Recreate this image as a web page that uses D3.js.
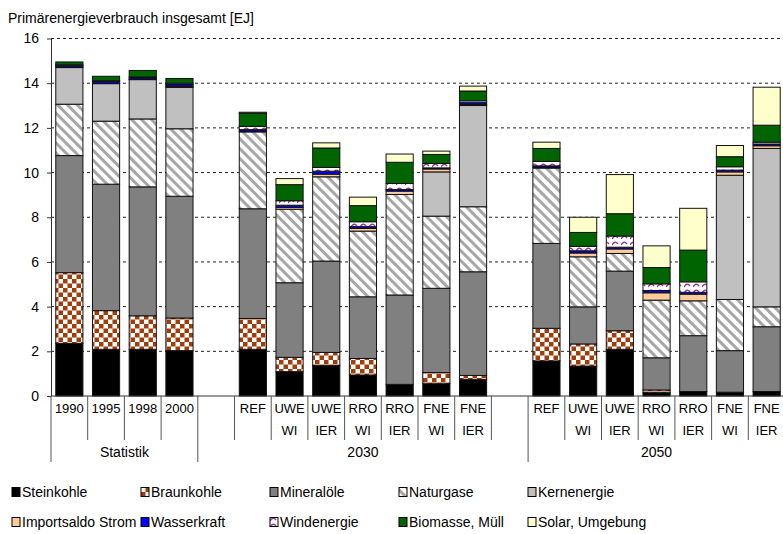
<!DOCTYPE html>
<html>
<head>
<meta charset="utf-8">
<script src="https://cdn.jsdelivr.net/npm/d3@7"></script>
<style>
  body { margin: 0; background: #fff; }
  svg { font-family: "Liberation Sans", Arial, Helvetica, sans-serif; }
</style>
</head>
<body>
<svg id="chart" width="783" height="534"></svg>
<script>
// categories (empty strings are the gaps between the blocks)
const categories = ["1990", "1995", "1998", "2000", "", "REF", "UWE", "UWE", "RRO", "RRO", "FNE", "FNE", "",
  "REF", "UWE", "UWE", "RRO", "RRO", "FNE", "FNE"];
const subLabels = ["", "", "", "", "", "", "WI", "IER", "WI", "IER", "WI", "IER", "",
  "", "WI", "IER", "WI", "IER", "WI", "IER"];
const groupLabels = ["Statistik", "2030", "2050"];
const groupFirst = [0, 4, 13];
const groupLast = [3, 12, 19];
const yTicks = [0, 2, 4, 6, 8, 10, 12, 14, 16];

// values in EJ
const steinkohle = [2.36, 2.09, 2.09, 2.03, 0, 2.09, 1.09, 1.36, 0.94, 0.52, 0.55, 0.75, 0, 1.57, 1.34, 2.09, 0.15, 0.2, 0.17, 0.2];
const braunkohle = [3.16, 1.73, 1.5, 1.46, 0, 1.38, 0.64, 0.59, 0.74, 0, 0.5, 0.17, 0, 1.46, 0.99, 0.83, 0.12, 0, 0, 0];
const mineraloele = [5.24, 5.66, 5.77, 5.45, 0, 4.91, 3.34, 4.09, 2.76, 4.0, 3.77, 4.64, 0, 3.8, 1.66, 2.67, 1.44, 2.5, 1.86, 2.9];
const naturgase = [2.3, 2.82, 3.04, 3.02, 0, 3.44, 3.29, 3.77, 2.94, 4.5, 3.23, 2.91, 0, 3.37, 2.24, 0.79, 2.58, 1.56, 2.29, 0.89];
const kernenergie = [1.64, 1.68, 1.76, 1.85, 0, 0, 0, 0, 0, 0, 1.98, 4.53, 0, 0, 0, 0, 0, 0, 5.56, 7.09];
const importsaldo = [0.03, 0.02, 0.01, 0.05, 0, 0.03, 0.08, 0.12, 0.12, 0.15, 0.13, 0.05, 0, 0.03, 0.17, 0.2, 0.33, 0.3, 0.15, 0.12];
const wasserkraft = [0.07, 0.08, 0.07, 0.08, 0, 0.07, 0.1, 0.13, 0.08, 0.07, 0.05, 0.08, 0, 0.07, 0.1, 0.08, 0.1, 0.08, 0.08, 0.08];
const windenergie = [0.02, 0.03, 0.04, 0.06, 0, 0.15, 0.2, 0.17, 0.22, 0.27, 0.2, 0.08, 0, 0.2, 0.2, 0.5, 0.3, 0.47, 0.15, 0.08];
const biomasse = [0.13, 0.2, 0.29, 0.21, 0, 0.58, 0.72, 0.87, 0.72, 0.95, 0.4, 0.44, 0, 0.58, 0.62, 1.0, 0.73, 1.42, 0.45, 0.76];
const solar = [0, 0, 0, 0, 0, 0.05, 0.27, 0.23, 0.38, 0.37, 0.15, 0.22, 0, 0.28, 0.68, 1.75, 0.97, 1.87, 0.5, 1.7];

const seriesNames = ["Steinkohle", "Braunkohle", "Mineralöle", "Naturgase", "Kernenergie",
  "Importsaldo Strom", "Wasserkraft", "Windenergie", "Biomasse, Müll", "Solar, Umgebung"];
const seriesValues = [steinkohle, braunkohle, mineraloele, naturgase, kernenergie,
  importsaldo, wasserkraft, windenergie, biomasse, solar];
const seriesFills = ["#000000", "url(#braun)", "#808080", "url(#gas)", "#c0c0c0",
  "#ffcc99", "#0000ff", "url(#wind)", "#006400", "#ffffcc"];

const svg = d3.select("#chart");
const plotLeft = 51, plotRight = 785, plotTop = 38.5, plotBottom = 396;

// patterns
const defs = svg.append("defs");
const braun = defs.append("pattern")
  .attr("id", "braun")
  .attr("width", 9)
  .attr("height", 9)
  .attr("patternUnits", "userSpaceOnUse");
braun.append("rect").attr("width", 9).attr("height", 9).attr("fill", "#fff");
braun.append("rect").attr("width", 4.5).attr("height", 4.5).attr("fill", "#a33c08");
braun.append("rect").attr("x", 4.5).attr("y", 4.5).attr("width", 4.5).attr("height", 4.5).attr("fill", "#a33c08");

const gas = defs.append("pattern")
  .attr("id", "gas")
  .attr("width", 7)
  .attr("height", 7)
  .attr("patternUnits", "userSpaceOnUse")
  .attr("patternTransform", "rotate(-45)");
gas.append("rect").attr("width", 7).attr("height", 7).attr("fill", "#fff");
gas.append("rect").attr("width", 3).attr("height", 7).attr("fill", "#a6a6a6");

const wind = defs.append("pattern")
  .attr("id", "wind")
  .attr("width", 9)
  .attr("height", 6)
  .attr("patternUnits", "userSpaceOnUse");
wind.append("rect").attr("width", 9).attr("height", 6).attr("fill", "#fff");
wind.append("path")
  .attr("d", "M0,5 Q3,0 6,4")
  .attr("fill", "none")
  .attr("stroke", "#993399")
  .attr("stroke-width", 1.3);

// scales
const slot = d3.scaleBand().domain(d3.range(categories.length)).range([plotLeft, plotRight]);
const x = d3.scaleBand()
  .domain(d3.range(categories.length))
  .range([plotLeft, plotRight])
  .paddingInner(0.26)
  .paddingOuter(0.13);
const y = d3.scaleLinear().domain([0, 16]).range([plotBottom, plotTop]);

// gridlines
svg.append("g")
  .selectAll("line")
  .data(yTicks.filter(function(d) { return d > 0; }))
  .join("line")
  .attr("x1", plotLeft)
  .attr("x2", 783)
  .attr("y1", function(d) { return y(d); })
  .attr("y2", function(d) { return y(d); })
  .attr("stroke", "#222")
  .attr("stroke-dasharray", "3,3");

// stacked bars
const rows = categories.map(function(c, i) {
  const row = { index: i };
  seriesNames.forEach(function(name, k) {
    row[name] = seriesValues[k][i];
  });
  return row;
});
const stacked = d3.stack().keys(seriesNames)(rows);

svg.append("g")
  .selectAll("g")
  .data(stacked)
  .join("g")
  .attr("fill", function(d, k) { return seriesFills[k]; })
  .selectAll("rect")
  .data(function(d) { return d.filter(function(p) { return p[1] - p[0] > 0; }); })
  .join("rect")
  .attr("x", function(p) { return x(p.data.index); })
  .attr("width", x.bandwidth())
  .attr("y", function(p) { return y(p[1]); })
  .attr("height", function(p) { return y(p[0]) - y(p[1]); })
  .attr("stroke", "#111")
  .attr("stroke-width", 1);

// y axis
const yAxis = svg.append("g")
  .attr("transform", `translate(${plotLeft},0)`)
  .call(d3.axisLeft(y).tickValues(yTicks).tickSize(4).tickPadding(8).tickSizeOuter(0));
yAxis.select(".domain").attr("stroke", "#333");
yAxis.selectAll(".tick line").attr("stroke", "#333");
yAxis.selectAll("text").attr("font-size", 14).attr("fill", "#000").attr("font-family", null);

// x axis base line
svg.append("line")
  .attr("x1", plotLeft)
  .attr("x2", 783)
  .attr("y1", plotBottom)
  .attr("y2", plotBottom)
  .attr("stroke", "#333");

// category separators
const bounds = d3.range(categories.length + 1);
svg.append("g")
  .selectAll("line")
  .data(bounds)
  .join("line")
  .attr("x1", function(k) { return plotLeft + k * slot.step(); })
  .attr("x2", function(k) { return plotLeft + k * slot.step(); })
  .attr("y1", plotBottom)
  .attr("y2", function(k) {
    return groupFirst.indexOf(k) >= 0 || k === categories.length ? 462 : 440;
  })
  .attr("stroke", "#555");

// category labels
svg.append("g")
  .selectAll("text")
  .data(categories)
  .join("text")
  .attr("x", function(d, i) { return slot(i) + slot.bandwidth() / 2; })
  .attr("y", 413)
  .attr("text-anchor", "middle")
  .attr("font-size", 13)
  .text(function(d) { return d; });

svg.append("g")
  .selectAll("text")
  .data(subLabels)
  .join("text")
  .attr("x", function(d, i) { return slot(i) + slot.bandwidth() / 2; })
  .attr("y", 435)
  .attr("text-anchor", "middle")
  .attr("font-size", 13)
  .text(function(d) { return d; });

svg.append("g")
  .selectAll("text")
  .data(groupLabels)
  .join("text")
  .attr("x", function(d, g) { return (slot(groupFirst[g]) + slot(groupLast[g]) + slot.bandwidth()) / 2; })
  .attr("y", 457)
  .attr("text-anchor", "middle")
  .attr("font-size", 14)
  .text(function(d) { return d; });

// title
svg.append("text")
  .attr("x", 8)
  .attr("y", 23)
  .attr("font-size", 14)
  .text("Primärenergieverbrauch insgesamt [EJ]");

// legend
const legend = svg.append("g")
  .selectAll("g")
  .data(seriesNames)
  .join("g")
  .attr("transform", function(d, k) {
    return `translate(${12 + (k % 5) * 129},${492 + Math.floor(k / 5) * 30})`;
  });
legend.append("rect")
  .attr("x", 0)
  .attr("y", -4.5)
  .attr("width", 8)
  .attr("height", 9)
  .attr("fill", function(d, k) { return seriesFills[k]; })
  .attr("stroke", "#000");
legend.append("text")
  .attr("x", 10)
  .attr("y", 5)
  .attr("font-size", 14)
  .text(function(d) { return d; });
</script>
</body>
</html>
